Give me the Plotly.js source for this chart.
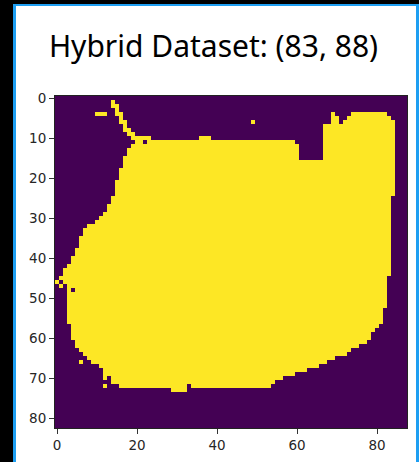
<!DOCTYPE html>
<html>
<head>
<meta charset="utf-8">
<script src="https://cdn.plot.ly/plotly-3.0.1.min.js"></script>
<style>
  html, body { margin: 0; padding: 0; background: #000; width: 419px; height: 462px; overflow: hidden; }
  #frame { position: absolute; left: 13px; top: 4px; width: 400px; height: 470px; background: #fff;
           border-left: 3px solid #1e9ff2; border-top: 2px solid #1e9ff2; border-right: 3px solid #1e9ff2; }
  #chart { position: absolute; left: 0; top: 0; width: 419px; height: 462px; }
</style>
</head>
<body>
<div id="frame"></div>
<div id="chart"></div>
<script>
// Image shape (rows, cols)
const nRows = 83;
const nCols = 88;
const titleText = "Hybrid Dataset: (83, 88)";
const xTicks = [0, 20, 40, 60, 80];
const yTicks = [0, 10, 20, 30, 40, 50, 60, 70, 80];
// Yellow (value 1) runs per row, "start-end" inclusive column indices
const maskRows = [
  "",                                   // 0
  "14-14",                              // 1
  "14-15",                              // 2
  "15-15",                              // 3
  "10-12 15-16 69-69 74-82",            // 4
  "16-16 69-70 73-83",                  // 5
  "16-17 49-49 69-70 72-84",            // 6
  "17-17 67-84",                        // 7
  "17-18 67-84",                        // 8
  "18-19 67-84",                        // 9
  "19-23 36-38 67-84",                  // 10
  "20-21 23-59 67-84",                  // 11
  "19-60 67-84",                        // 12
  "18-60 67-84",                        // 13
  "18-60 67-84",                        // 14
  "17-60 67-84",                        // 15
  "17-84", "17-84", "16-84", "16-84", "16-84",          // 16-20
  "15-84", "15-84", "15-84", "15-84", "14-83",          // 21-25
  "14-83", "13-83", "13-83", "12-83", "11-83",          // 26-30
  "10-83", "8-83", "7-83", "7-83", "6-83",              // 31-35
  "6-83", "6-83", "5-83", "5-83", "4-83",               // 36-40
  "4-83", "3-83", "2-83", "2-83", "1-82",               // 41-45
  "0-0 2-82", "1-1 3-82", "3-3 5-82", "3-82", "3-82",   // 46-50
  "3-82", "3-82", "3-81", "3-81", "3-81",               // 51-55
  "3-81", "4-80", "4-79", "4-78", "4-78",               // 56-60
  "5-77", "5-75", "6-73", "7-72", "8-69",               // 61-65
  "6-6 9-67", "11-65", "12-62", "12-59", "12-12 14-56", // 66-70
  "14-54", "12-12 16-28 29-32 34-53", "29-32",          // 71-73
  "", "", "", "", "", "", "", "", ""                    // 74-82
];

const z = [];
for (let r = 0; r < nRows; r++) {
  const row = new Array(nCols).fill(0);
  const spec = (maskRows[r] || "").trim();
  if (spec) {
    spec.split(/\s+/).forEach(seg => {
      const [a, b] = seg.split("-").map(Number);
      for (let c = a; c <= b; c++) row[c] = 1;
    });
  }
  z.push(row);
}

const trace = {
  type: "heatmap",
  z: z,
  zmin: 0, zmax: 1,
  colorscale: [[0, "#440154"], [1, "#fde725"]],
  showscale: false,
  zsmooth: false,
  hoverinfo: "skip"
};

const tickFont = { family: "DejaVu Sans", size: 13.5, color: "#262626" };
const layout = {
  width: 419, height: 462,
  margin: { l: 55, r: 12, t: 96, b: 34, pad: 0 },
  paper_bgcolor: "rgba(0,0,0,0)",
  plot_bgcolor: "#440154",
  title: {
    text: titleText,
    font: { family: "Noto Sans", size: 30, color: "#000" },
    x: 213.5 / 419, xanchor: "center", xref: "container",
    y: 1 - 46 / 462, yanchor: "middle", yref: "container"
  },
  xaxis: {
    range: [-0.5, nCols - 0.5],
    tickvals: xTicks, ticktext: xTicks.map(String),
    ticks: "outside", ticklen: 5, tickwidth: 1, tickcolor: "#333",
    tickfont: tickFont,
    showgrid: false, zeroline: false,
    showline: true, mirror: true, linecolor: "#222", linewidth: 1
  },
  yaxis: {
    range: [nRows - 0.5, -0.5],
    tickvals: yTicks, ticktext: yTicks.map(String),
    ticks: "outside", ticklen: 5, tickwidth: 1, tickcolor: "#333",
    tickfont: tickFont,
    showgrid: false, zeroline: false,
    showline: true, mirror: true, linecolor: "#222", linewidth: 1
  },
  showlegend: false
};

Plotly.newPlot("chart", [trace], layout, { staticPlot: true, displayModeBar: false });
</script>
</body>
</html>
